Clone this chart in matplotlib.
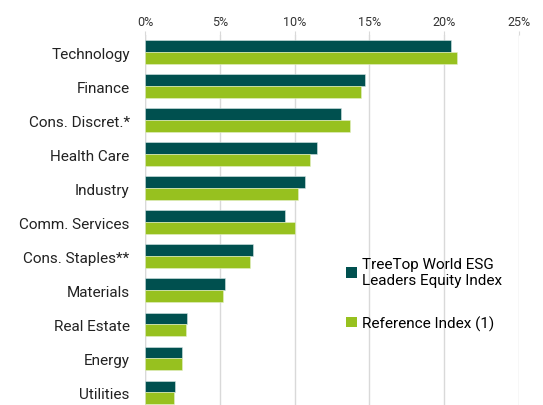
import matplotlib
matplotlib.use("Agg")
import matplotlib.pyplot as plt
from matplotlib.patches import Patch
import numpy as np

categories = ["Technology", "Finance", "Cons. Discret.*", "Health Care", "Industry",
              "Comm. Services", "Cons. Staples**", "Materials", "Real Estate", "Energy", "Utilities"]
treetop = [20.47, 14.73, 13.08, 11.48, 10.70, 9.37, 7.23, 5.34, 2.78, 2.47, 2.03]
reference = [20.87, 14.42, 13.73, 11.01, 10.24, 10.04, 6.99, 5.23, 2.71, 2.47, 1.96]
xticks = [0, 5, 10, 15, 20, 25]
series_names = ["TreeTop World ESG\nLeaders Equity Index", "Reference Index (1)"]

dark = "#00504f"
green = "#97c11f"

plt.rcParams['font.family'] = ['Roboto', 'DejaVu Sans']

W, H = 543, 406
fig = plt.figure(figsize=(W/100, H/100), dpi=100)
ax = fig.add_axes([145/W, 0, (519-145)/W, (406-36)/H])

y = np.arange(len(categories))
h = 0.34
ax.barh(y - h/2, treetop, height=h, color=dark, edgecolor="#d6e6e6", linewidth=0.4, zorder=3)
ax.barh(y + h/2, reference, height=h, color=green, edgecolor="#e4f0c8", linewidth=0.4, zorder=3)

ax.set_xlim(0, 25)
ax.set_ylim(10.38, -0.5)
ax.xaxis.tick_top()
ax.set_xticks(xticks)
ax.set_xticklabels([f"{t}%" for t in xticks], fontsize=9, color="#333333")
ax.tick_params(axis='x', length=3, color="#d9d9d9", pad=2)
ax.set_yticks(y)
ax.set_yticklabels(categories, fontsize=11, color="#222222")
ax.tick_params(axis='y', length=0, pad=11)
ax.grid(axis='x', color="#d9d9d9", linewidth=1, zorder=0)
for s in ax.spines.values():
    s.set_visible(False)
ax.axvline(0, color="#d9d9d9", linewidth=1, zorder=0)

handles = [Patch(facecolor=dark), Patch(facecolor=green)]
leg = fig.legend(handles, series_names, loc="upper left", bbox_to_anchor=(340/W, 1-252/H),
                 frameon=False, fontsize=11, handlelength=0.7, handleheight=0.7,
                 handletextpad=0.35, labelspacing=1.85, borderaxespad=0)

fig.savefig("out.png", dpi=100)
